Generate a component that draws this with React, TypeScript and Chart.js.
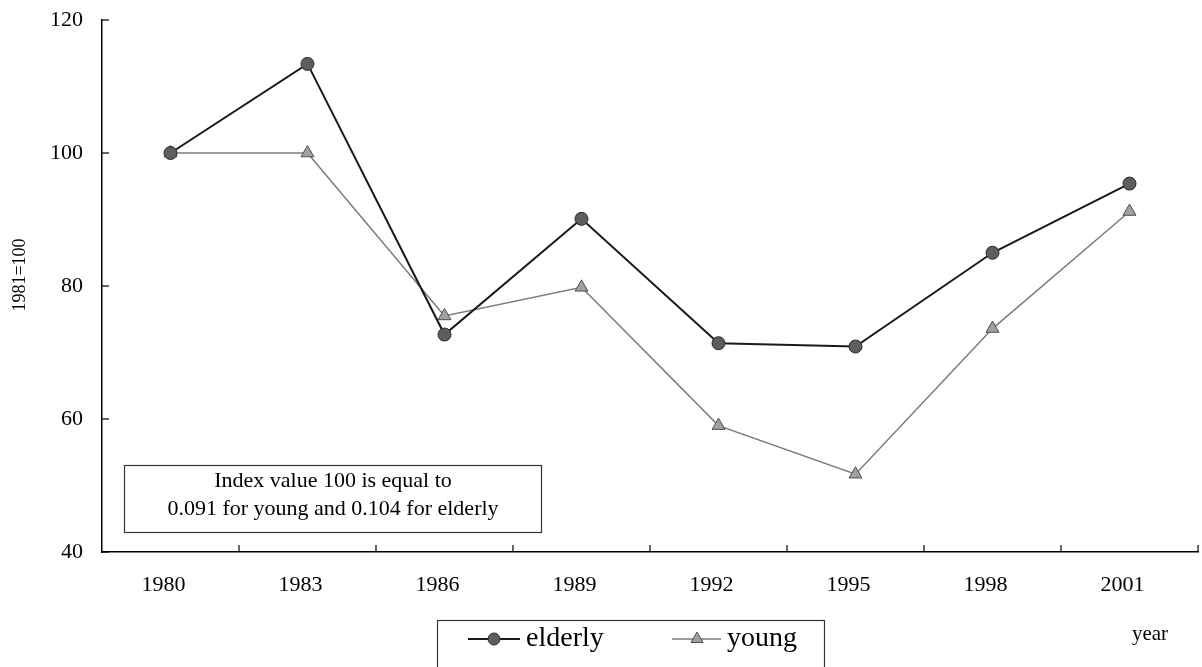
import React, { useEffect, useRef } from 'react';
import { Chart, registerables } from 'chart.js';

Chart.register(...registerables);

const years = ['1980', '1983', '1986', '1989', '1992', '1995', '1998', '2001'];
const elderly = [100, 113.4, 72.7, 90.1, 71.4, 70.9, 85.0, 95.4];
const young = [100, 100, 75.5, 79.8, 59.0, 51.7, 73.6, 91.2];
const yTickValues = [40, 60, 80, 100, 120];
const seriesNames = ['elderly', 'young'];
const noteLines = ['Index value 100 is equal to', '0.091 for young and 0.104 for elderly'];
const yTitle = '1981=100';
const xTitle = 'year';

const FONT = '"Liberation Serif", "DejaVu Serif", "Times New Roman", serif';

const decorPlugin = {
  id: 'decor',
  afterDraw(chart: any) {
    const ctx: CanvasRenderingContext2D = chart.ctx;
    const { left, right, bottom } = chart.chartArea;
    const xs = chart.scales.x;
    const ys = chart.scales.y;
    ctx.save();
    ctx.strokeStyle = '#000';
    ctx.lineWidth = 1.2;
    // x inner ticks at category boundaries
    const n = years.length;
    const step = (right - left) / n;
    for (let i = 1; i <= n; i++) {
      const x = xs.getPixelForValue(i - 1) + step / 2;
      ctx.beginPath();
      ctx.moveTo(x, bottom);
      ctx.lineTo(x, bottom - 7);
      ctx.stroke();
    }
    // y inner ticks
    yTickValues.forEach((v) => {
      const y = ys.getPixelForValue(v);
      ctx.beginPath();
      ctx.moveTo(left, y);
      ctx.lineTo(left + 7, y);
      ctx.stroke();
    });

    // annotation box
    ctx.lineWidth = 1.2;
    ctx.strokeStyle = '#333';
    ctx.strokeRect(124.5, 465.5, 417, 67);
    ctx.fillStyle = '#000';
    ctx.font = `22px ${FONT}`;
    ctx.textAlign = 'center';
    ctx.textBaseline = 'middle';
    ctx.fillText(noteLines[0], 333, 481);
    ctx.fillText(noteLines[1], 333, 509);

    // y title
    ctx.save();
    ctx.translate(20, 275);
    ctx.rotate(-Math.PI / 2);
    ctx.font = `18px ${FONT}`;
    ctx.fillText(yTitle, 0, 0);
    ctx.restore();

    // x title
    ctx.font = `21px ${FONT}`;
    ctx.fillText(xTitle, 1150, 634);

    // legend box
    ctx.strokeStyle = '#333';
    ctx.strokeRect(437.5, 620.5, 387, 50);
    const ly = 639;
    const ds = chart.data.datasets;
    // elderly sample
    ctx.strokeStyle = ds[0].borderColor;
    ctx.lineWidth = ds[0].borderWidth;
    ctx.beginPath();
    ctx.moveTo(468, ly);
    ctx.lineTo(520, ly);
    ctx.stroke();
    ctx.beginPath();
    ctx.arc(494, ly, 6, 0, Math.PI * 2);
    ctx.fillStyle = ds[0].pointBackgroundColor;
    ctx.fill();
    ctx.strokeStyle = ds[0].pointBorderColor;
    ctx.lineWidth = 1;
    ctx.stroke();
    // young sample
    ctx.strokeStyle = ds[1].borderColor;
    ctx.lineWidth = ds[1].borderWidth;
    ctx.beginPath();
    ctx.moveTo(672, ly);
    ctx.lineTo(721, ly);
    ctx.stroke();
    const r = 7;
    const cx = 697;
    ctx.beginPath();
    ctx.moveTo(cx, ly - r);
    ctx.lineTo(cx + r * 0.866, ly + r * 0.5);
    ctx.lineTo(cx - r * 0.866, ly + r * 0.5);
    ctx.closePath();
    ctx.fillStyle = ds[1].pointBackgroundColor;
    ctx.fill();
    ctx.strokeStyle = ds[1].pointBorderColor;
    ctx.lineWidth = 1;
    ctx.stroke();
    ctx.fillStyle = '#000';
    ctx.font = `28px ${FONT}`;
    ctx.textAlign = 'left';
    ctx.textBaseline = 'middle';
    ctx.fillText(seriesNames[0], 526, ly);
    ctx.fillText(seriesNames[1], 727, ly);
    ctx.restore();
  },
};

export default function App() {
  const ref = useRef<HTMLCanvasElement | null>(null);
  useEffect(() => {
    document.body.style.margin = '0';
    const canvas = ref.current;
    if (!canvas) return;
    const chart = new Chart(canvas, {
      type: 'line',
      data: {
        labels: years,
        datasets: [
          {
            label: seriesNames[0],
            data: elderly,
            borderColor: '#1a1a1a',
            borderWidth: 2,
            pointStyle: 'circle',
            pointRadius: 6.5,
            pointBackgroundColor: '#5e5e5e',
            pointBorderColor: '#2a2a2a',
            pointBorderWidth: 1,
            tension: 0,
          },
          {
            label: seriesNames[1],
            data: young,
            borderColor: '#7a7a7a',
            borderWidth: 1.5,
            pointStyle: 'triangle',
            pointRadius: 7.5,
            pointBackgroundColor: '#a0a0a0',
            pointBorderColor: '#505050',
            pointBorderWidth: 1,
            tension: 0,
          },
        ],
      },
      options: {
        animation: false,
        responsive: false,
        maintainAspectRatio: false,
        layout: { autoPadding: false, padding: { left: 0, top: 20, right: 4, bottom: 0 } },
        plugins: {
          legend: { display: false },
          tooltip: { enabled: false },
        },
        scales: {
          x: {
            type: 'category',
            offset: true,
            grid: { display: true, drawOnChartArea: false, drawTicks: false, offset: true },
            border: { display: true, color: '#000', width: 1.5 },
            ticks: {
              color: '#000',
              font: { family: FONT, size: 22 },
              padding: 20,
              labelOffset: -7,
              maxRotation: 0,
              autoSkip: false,
            },
            afterFit: (s: any) => {
              s.height = 115;
              s.paddingLeft = 0;
              s.paddingRight = 0;
            },
          },
          y: {
            min: 40,
            max: 120,
            grid: { display: true, drawOnChartArea: false, drawTicks: false },
            border: { display: true, color: '#000', width: 1.5 },
            ticks: {
              stepSize: 20,
              color: '#000',
              font: { family: FONT, size: 22 },
              padding: 19,
            },
            afterFit: (s: any) => {
              s.width = 102;
              s.paddingTop = 0;
              s.paddingBottom = 0;
            },
          },
        },
      },
      plugins: [decorPlugin],
    });
    return () => chart.destroy();
  }, []);
  return (
    <div style={{ width: 1202, height: 667, background: '#fff' }}>
      <canvas ref={ref} width={1202} height={667} style={{ display: 'block' }} />
    </div>
  );
}
